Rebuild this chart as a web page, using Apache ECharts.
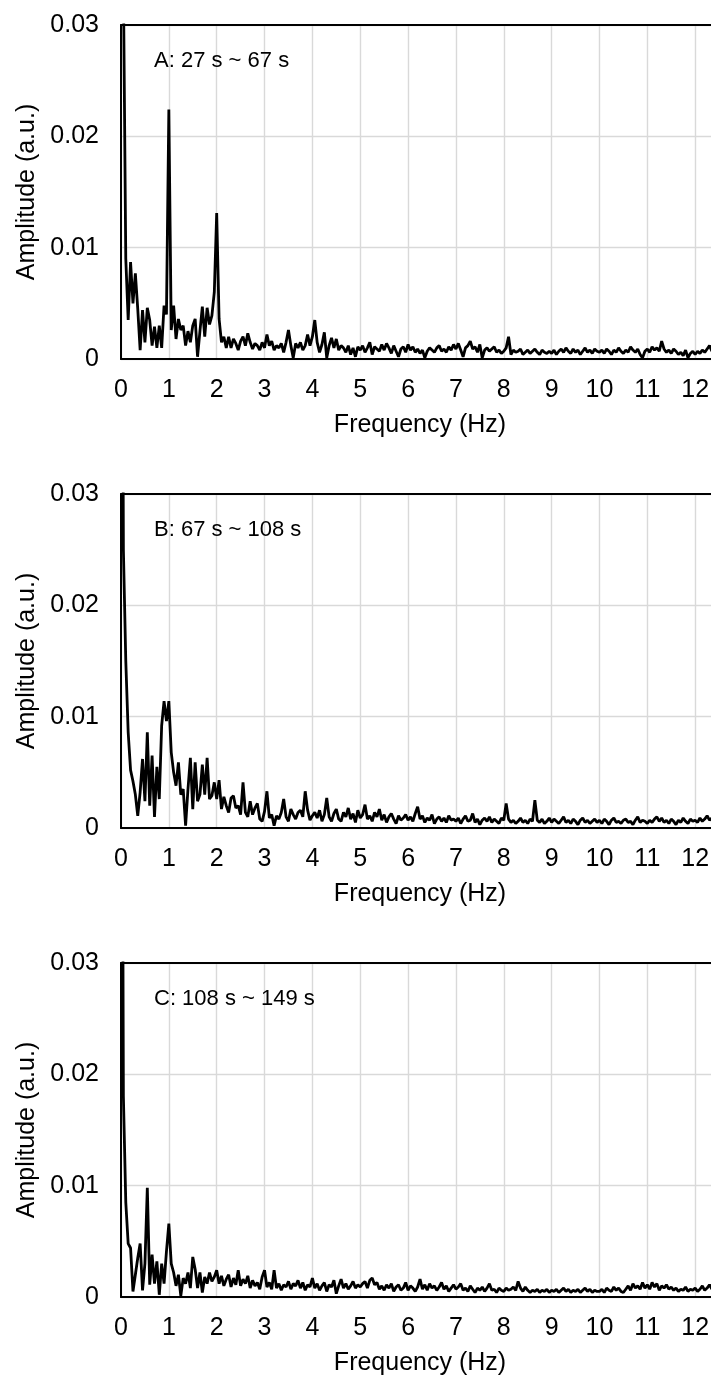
<!DOCTYPE html>
<html>
<head>
<meta charset="utf-8">
<script src="https://cdn.jsdelivr.net/npm/echarts@6/dist/echarts.min.js"></script>
<style>
  html, body { margin: 0; padding: 0; background: #fff; }
  #main { width: 711px; height: 1380px; }
</style>
</head>
<body>
<div id="main"></div>
<script>
// spectra sampled every 0.05 Hz, one row = 1 Hz
var freqStep = 0.05;

var ampA = [
  0.090, 0.034, 0.0090, 0.0035, 0.0087, 0.0050, 0.0077, 0.0045, 0.0008, 0.0044, 0.0015, 0.0046, 0.0035, 0.0012, 0.0029, 0.0010, 0.0030, 0.0010, 0.0048, 0.0040,
  0.0224, 0.0026, 0.0048, 0.0018, 0.0036, 0.0026, 0.0030, 0.0012, 0.0025, 0.0015, 0.0030, 0.0036, 0.0002, 0.0025, 0.0047, 0.0020, 0.0046, 0.0031, 0.0039, 0.0060,
  0.0131, 0.0036, 0.0015, 0.0020, 0.0010, 0.0020, 0.0010, 0.0018, 0.0014, 0.0008, 0.0016, 0.0020, 0.0012, 0.0023, 0.0015, 0.0009, 0.0014, 0.0012, 0.0008, 0.0015,
  0.0010, 0.0022, 0.0012, 0.0016, 0.0008, 0.0012, 0.0010, 0.0014, 0.0006, 0.0015, 0.0026, 0.0012, 0.0001, 0.0014, 0.0010, 0.0015, 0.0008, 0.0012, 0.0022, 0.0012,
  0.0020, 0.0035, 0.0015, 0.0006, 0.0013, 0.0024, 0.0001, 0.0012, 0.0019, 0.0010, 0.0018, 0.0008, 0.0012, 0.0010, 0.0006, 0.0012, 0.0004, 0.0010, 0.0002, 0.0011,
  0.0008, 0.0012, 0.0006, 0.0010, 0.0015, 0.0004, 0.0011, 0.0009, 0.0007, 0.0013, 0.0008, 0.0014, 0.0010, 0.0005, 0.0012, 0.0007, 0.0002, 0.0009, 0.0011, 0.0006,
  0.0013, 0.0008, 0.0011, 0.0006, 0.0009, 0.0005, 0.0008, 0.0001, 0.0007, 0.0010, 0.0008, 0.0006, 0.0010, 0.0012, 0.0007, 0.0009, 0.0006, 0.0011, 0.0008, 0.0013,
  0.0009, 0.0014, 0.0008, 0.0002, 0.0010, 0.0012, 0.0016, 0.0009, 0.0011, 0.0006, 0.0013, 0.0001, 0.0008, 0.0010, 0.0007, 0.0009, 0.0011, 0.0006, 0.0008, 0.0005,
  0.0007, 0.0010, 0.0020, 0.0004, 0.0008, 0.0006, 0.0007, 0.0009, 0.0004, 0.0006, 0.0008, 0.0005, 0.0007, 0.0009, 0.0006, 0.0004, 0.0008, 0.0006, 0.0005, 0.0007,
  0.0005, 0.0008, 0.0004, 0.0007, 0.0009, 0.0006, 0.0010, 0.0007, 0.0005, 0.0009, 0.0006, 0.0008, 0.0004, 0.0007, 0.0010, 0.0006, 0.0008, 0.0005, 0.0009, 0.0007,
  0.0006, 0.0008, 0.0005, 0.0009, 0.0007, 0.0004, 0.0008, 0.0006, 0.0010, 0.0007, 0.0005, 0.0008, 0.0006, 0.0011, 0.0008, 0.0006, 0.0009, 0.0004, 0.0001, 0.0007,
  0.0009, 0.0006, 0.0011, 0.0008, 0.0010, 0.0007, 0.0016, 0.0009, 0.0006, 0.0008, 0.0005, 0.0009, 0.0007, 0.0004, 0.0006, 0.0003, 0.0008, 0.0001, 0.0005, 0.0007,
  0.0004, 0.0007, 0.0005, 0.0008, 0.0006, 0.0009, 0.0012, 0.0007, 0.0010, 0.0006, 0.0008
];

var ampB = [
  0.090, 0.025, 0.0150, 0.0086, 0.0052, 0.0042, 0.0030, 0.0011, 0.0032, 0.0062, 0.0024, 0.0086, 0.0020, 0.0065, 0.0010, 0.0055, 0.0026, 0.0092, 0.0114, 0.0096,
  0.0114, 0.0068, 0.0050, 0.0038, 0.0059, 0.0030, 0.0035, 0.0002, 0.0035, 0.0063, 0.0017, 0.0059, 0.0024, 0.0030, 0.0057, 0.0030, 0.0063, 0.0026, 0.0029, 0.0041,
  0.0026, 0.0043, 0.0017, 0.0028, 0.0020, 0.0014, 0.0027, 0.0029, 0.0018, 0.0020, 0.0012, 0.0041, 0.0014, 0.0010, 0.0024, 0.0012, 0.0018, 0.0022, 0.0008, 0.0006,
  0.0015, 0.0033, 0.0009, 0.0012, 0.0002, 0.0011, 0.0008, 0.0014, 0.0026, 0.0010, 0.0006, 0.0017, 0.0012, 0.0008, 0.0014, 0.0016, 0.0010, 0.0033, 0.0016, 0.0007,
  0.0011, 0.0014, 0.0009, 0.0016, 0.0006, 0.0012, 0.0027, 0.0010, 0.0006, 0.0013, 0.0017, 0.0008, 0.0006, 0.0014, 0.0010, 0.0018, 0.0008, 0.0013, 0.0005, 0.0016,
  0.0009, 0.0012, 0.0021, 0.0008, 0.0011, 0.0006, 0.0014, 0.0010, 0.0017, 0.0007, 0.0012, 0.0005, 0.0010, 0.0013, 0.0008, 0.0004, 0.0011, 0.0007, 0.0009, 0.0012,
  0.0007, 0.0010, 0.0006, 0.0013, 0.0019, 0.0008, 0.0011, 0.0005, 0.0009, 0.0007, 0.0012, 0.0004, 0.0008, 0.0010, 0.0006, 0.0009, 0.0005, 0.0011, 0.0007, 0.0008,
  0.0006, 0.0009, 0.0004, 0.0008, 0.0011, 0.0006, 0.0007, 0.0013, 0.0005, 0.0008, 0.0003, 0.0007, 0.0009, 0.0006, 0.0010, 0.0005, 0.0008, 0.0006, 0.0004, 0.0009,
  0.0007, 0.0022, 0.0008, 0.0005, 0.0007, 0.0004, 0.0006, 0.0009, 0.0005, 0.0007, 0.0004, 0.0008, 0.0006, 0.0025, 0.0007, 0.0005, 0.0008, 0.0004, 0.0006, 0.0009,
  0.0005, 0.0008, 0.0006, 0.0004, 0.0007, 0.0010, 0.0005, 0.0007, 0.0004, 0.0008, 0.0006, 0.0003, 0.0007, 0.0009, 0.0005, 0.0007, 0.0004, 0.0006, 0.0008, 0.0005,
  0.0007, 0.0004, 0.0008, 0.0006, 0.0003, 0.0007, 0.0009, 0.0005, 0.0006, 0.0004, 0.0007, 0.0008, 0.0005, 0.0006, 0.0003, 0.0007, 0.0010, 0.0005, 0.0007, 0.0006,
  0.0004, 0.0007, 0.0005, 0.0008, 0.0010, 0.0006, 0.0009, 0.0005, 0.0007, 0.0004, 0.0008, 0.0006, 0.0003, 0.0007, 0.0005, 0.0009, 0.0006, 0.0004, 0.0008, 0.0006,
  0.0007, 0.0005, 0.0009, 0.0006, 0.0008, 0.0011, 0.0007, 0.0009, 0.0006, 0.0010, 0.0008
];

var ampC = [
  0.090, 0.018, 0.0085, 0.0048, 0.0044, 0.0005, 0.0020, 0.0035, 0.0048, 0.0006, 0.0030, 0.0098, 0.0011, 0.0038, 0.0012, 0.0032, 0.0002, 0.0030, 0.0012, 0.0041,
  0.0066, 0.0030, 0.0022, 0.0010, 0.0020, 0.0001, 0.0017, 0.0012, 0.0022, 0.0008, 0.0036, 0.0025, 0.0008, 0.0022, 0.0004, 0.0018, 0.0012, 0.0022, 0.0014, 0.0018,
  0.0024, 0.0012, 0.0019, 0.0010, 0.0016, 0.0020, 0.0009, 0.0017, 0.0011, 0.0024, 0.0010, 0.0016, 0.0012, 0.0019, 0.0008, 0.0015, 0.0010, 0.0013, 0.0007, 0.0018,
  0.0024, 0.0009, 0.0013, 0.0007, 0.0024, 0.0008, 0.0012, 0.0006, 0.0011, 0.0009, 0.0014, 0.0007, 0.0012, 0.0010, 0.0015, 0.0008, 0.0013, 0.0006, 0.0011, 0.0009,
  0.0017, 0.0008, 0.0012, 0.0006, 0.0010, 0.0013, 0.0005, 0.0011, 0.0009, 0.0015, 0.0003, 0.0010, 0.0016, 0.0008, 0.0012, 0.0007, 0.0010, 0.0014, 0.0008, 0.0011,
  0.0009, 0.0012, 0.0014, 0.0008, 0.0015, 0.0017, 0.0011, 0.0013, 0.0007, 0.0010, 0.0006, 0.0011, 0.0008, 0.0012, 0.0005, 0.0009, 0.0011, 0.0006, 0.0008, 0.0013,
  0.0006, 0.0010, 0.0008, 0.0005, 0.0009, 0.0016, 0.0007, 0.0011, 0.0006, 0.0012, 0.0008, 0.0010, 0.0006, 0.0009, 0.0013, 0.0007, 0.0010, 0.0005, 0.0008, 0.0011,
  0.0007, 0.0009, 0.0012, 0.0006, 0.0008, 0.0005, 0.0010, 0.0007, 0.0004, 0.0008, 0.0006, 0.0009, 0.0005, 0.0008, 0.0012, 0.0006, 0.0007, 0.0004, 0.0008, 0.0006,
  0.0005, 0.0008, 0.0006, 0.0007, 0.0009, 0.0006, 0.0014, 0.0008, 0.0005, 0.0009, 0.0006, 0.0004, 0.0006, 0.0005, 0.0007, 0.0004, 0.0006, 0.0005, 0.0007, 0.0004,
  0.0006, 0.0005, 0.0007, 0.0004, 0.0006, 0.0008, 0.0005, 0.0007, 0.0004, 0.0006, 0.0005, 0.0007, 0.0004, 0.0006, 0.0008, 0.0005, 0.0007, 0.0004, 0.0006, 0.0005,
  0.0005, 0.0007, 0.0004, 0.0008, 0.0006, 0.0005, 0.0009, 0.0006, 0.0008, 0.0005, 0.0004, 0.0007, 0.0010, 0.0006, 0.0012, 0.0008, 0.0010, 0.0007, 0.0013, 0.0008,
  0.0011, 0.0007, 0.0013, 0.0009, 0.0012, 0.0006, 0.0010, 0.0008, 0.0011, 0.0007, 0.0009, 0.0006, 0.0008, 0.0005, 0.0007, 0.0006, 0.0009, 0.0005, 0.0007, 0.0006,
  0.0008, 0.0005, 0.0007, 0.0010, 0.0006, 0.0008, 0.0011, 0.0007, 0.0009, 0.0006, 0.0008
];

var panelLabels = ['A: 27 s ~ 67 s', 'B: 67 s ~ 108 s', 'C: 108 s ~ 149 s'];
var panelData = [ampA, ampB, ampC];
var yMin = 0, yMax = 0.03, yStep = 0.01;
var xMin = 0, xMax = 13, xStep = 1;

var fontName = '"Liberation Sans", Arial, sans-serif';
var panelTop = [25, 494, 963];

function toPairs(arr) {
	return arr.map(function (v, i) {
		return [+(i * freqStep).toFixed(2), v];
	});
}

var grids = [], xAxes = [], xAxesTop = [], yAxes = [], series = [], titles = [];

for (var i = 0; i < 3; i++) {
	grids.push({
		left: 121,
		top: panelTop[i],
		width: 622,
		height: 334,
		containLabel: false,
		outerBoundsMode: 'none',
		show: false
	});
	xAxes.push({
		type: 'value',
		gridIndex: i,
		position: 'bottom',
		min: xMin,
		max: xMax,
		interval: xStep,
		name: 'Frequency (Hz)',
		nameLocation: 'middle',
		nameGap: 54,
		nameTextStyle: {
			color: '#000',
			fontSize: 25,
			fontFamily: fontName,
			padding: [0, 24, 0, 0]
		},
		axisLine: { show: true, onZero: false, lineStyle: { color: '#000', width: 2 } },
		axisTick: { show: false },
		axisLabel: {
			color: '#000',
			fontSize: 25,
			fontFamily: fontName,
			margin: 19
		},
		splitLine: { show: true, lineStyle: { color: '#d9d9d9', width: 1.4 } }
	});
	// top frame line
	xAxesTop.push({
		type: 'value',
		gridIndex: i,
		position: 'top',
		min: xMin,
		max: xMax,
		axisLine: { show: true, onZero: false, lineStyle: { color: '#000', width: 2 } },
		axisTick: { show: false },
		axisLabel: { show: false },
		splitLine: { show: false }
	});
	yAxes.push({
		type: 'value',
		gridIndex: i,
		min: yMin,
		max: yMax,
		interval: yStep,
		name: 'Amplitude (a.u.)',
		nameLocation: 'middle',
		nameGap: 78,
		nameTextStyle: {
			color: '#000',
			fontSize: 25,
			fontFamily: fontName
		},
		axisLine: { show: true, lineStyle: { color: '#000', width: 2 } },
		axisTick: { show: false },
		axisLabel: {
			color: '#000',
			fontSize: 25,
			fontFamily: fontName,
			margin: 22,
			formatter: function (v) {
				return v === 0 ? '0' : v.toFixed(2);
			}
		},
		splitLine: { show: true, lineStyle: { color: '#d9d9d9', width: 1.4 } }
	});
	series.push({
		type: 'line',
		xAxisIndex: i,
		yAxisIndex: i,
		data: toPairs(panelData[i]),
		showSymbol: false,
		symbol: 'none',
		clip: true,
		lineStyle: { color: '#000', width: 2.8 },
		z: 5
	});
	titles.push({
		text: panelLabels[i],
		left: 154,
		top: panelTop[i] + 25,
		padding: 0,
		textStyle: {
			color: '#000',
			fontSize: 22,
			fontWeight: 'normal',
			fontFamily: fontName
		}
	});
}

var option = {
	animation: false,
	backgroundColor: '#fff',
	title: titles,
	grid: grids,
	xAxis: xAxes.concat(xAxesTop),
	yAxis: yAxes,
	series: series
};

var chart = echarts.init(document.getElementById('main'), null, { renderer: 'canvas' });
chart.setOption(option);
</script>
</body>
</html>
